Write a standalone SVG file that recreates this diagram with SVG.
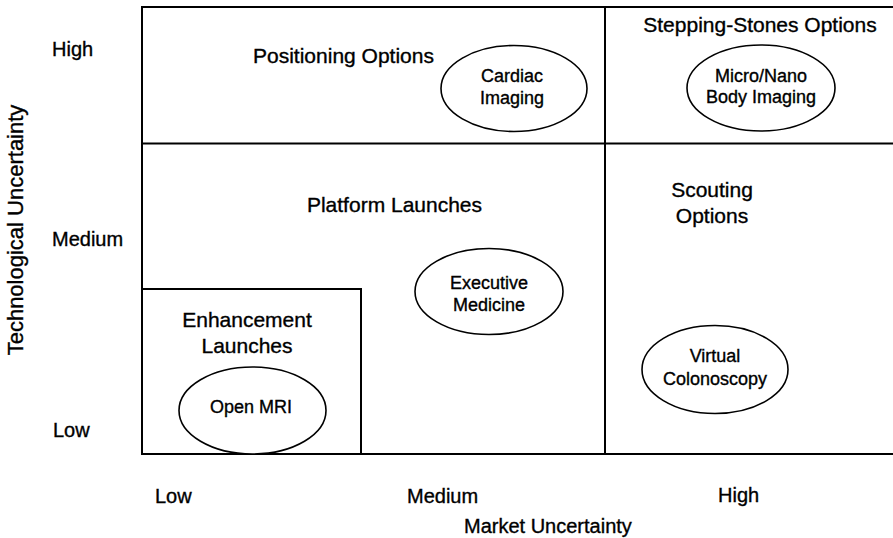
<svg xmlns="http://www.w3.org/2000/svg" width="893" height="538" viewBox="0 0 893 538">
  <style>
    text { font-family: "Liberation Sans", Arial, sans-serif; fill: #000; stroke: #000; stroke-width: 0.35; }
    .axis { font-size: 20px; }
    .region { font-size: 21px; }
    .item { font-size: 18px; text-anchor: middle; }
    .grid { stroke: #000; stroke-width: 2; fill: none; }
    .oval { stroke: #000; stroke-width: 1.6; fill: #fff; }
  </style>
  <rect x="0" y="0" width="893" height="538" fill="#fff"/>

  <!-- matrix frame and dividers -->
  <g id="grid" class="grid">
    <polyline points="893,7 142,7 142,454 893,454"/>
    <line x1="142" y1="143.5" x2="893" y2="143.5"/>
    <line x1="605" y1="7" x2="605" y2="454"/>
    <polyline points="142,289 361,289 361,454"/>
  </g>

  <!-- axis labels -->
  <g id="y-axis">
    <text class="axis" x="52" y="56">High</text>
    <text class="axis" x="52" y="246">Medium</text>
    <text class="axis" x="53" y="437">Low</text>
    <text class="axis" style="font-size:22px" text-anchor="middle" transform="translate(23,230) rotate(-90)">Technological Uncertainty</text>
  </g>
  <g id="x-axis">
    <text class="axis" x="155" y="503">Low</text>
    <text class="axis" x="407" y="503">Medium</text>
    <text class="axis" x="718" y="502">High</text>
    <text class="axis" x="464" y="533">Market Uncertainty</text>
  </g>

  <!-- option regions -->
  <g id="positioning-options">
    <text class="region" x="253" y="63">Positioning Options</text>
  </g>
  <g id="stepping-stones-options">
    <text class="region" x="760" y="32" text-anchor="middle">Stepping-Stones Options</text>
  </g>
  <g id="platform-launches">
    <text class="region" x="394.5" y="212" text-anchor="middle">Platform Launches</text>
  </g>
  <g id="scouting-options">
    <text class="region" x="712" y="197" text-anchor="middle">Scouting</text>
    <text class="region" x="712" y="223" text-anchor="middle">Options</text>
  </g>
  <g id="enhancement-launches">
    <text class="region" x="247" y="327" text-anchor="middle">Enhancement</text>
    <text class="region" x="247" y="353" text-anchor="middle">Launches</text>
  </g>

  <!-- projects -->
  <g id="cardiac-imaging">
    <ellipse class="oval" cx="514" cy="88.5" rx="73" ry="43"/>
    <text class="item" x="512" y="82">Cardiac</text>
    <text class="item" x="512" y="104">Imaging</text>
  </g>
  <g id="micro-nano-body-imaging">
    <ellipse class="oval" cx="761" cy="88" rx="74" ry="43"/>
    <text class="item" x="761" y="82">Micro/Nano</text>
    <text class="item" x="761" y="103">Body Imaging</text>
  </g>
  <g id="executive-medicine">
    <ellipse class="oval" cx="489" cy="291.5" rx="74" ry="43"/>
    <text class="item" x="489" y="289">Executive</text>
    <text class="item" x="489" y="311">Medicine</text>
  </g>
  <g id="virtual-colonoscopy">
    <ellipse class="oval" cx="715" cy="369.5" rx="73" ry="44"/>
    <text class="item" x="715" y="362">Virtual</text>
    <text class="item" x="715" y="385">Colonoscopy</text>
  </g>
  <g id="open-mri">
    <ellipse class="oval" cx="252.5" cy="410.5" rx="73.5" ry="43.5"/>
    <text class="item" x="251" y="413">Open MRI</text>
  </g>
</svg>
